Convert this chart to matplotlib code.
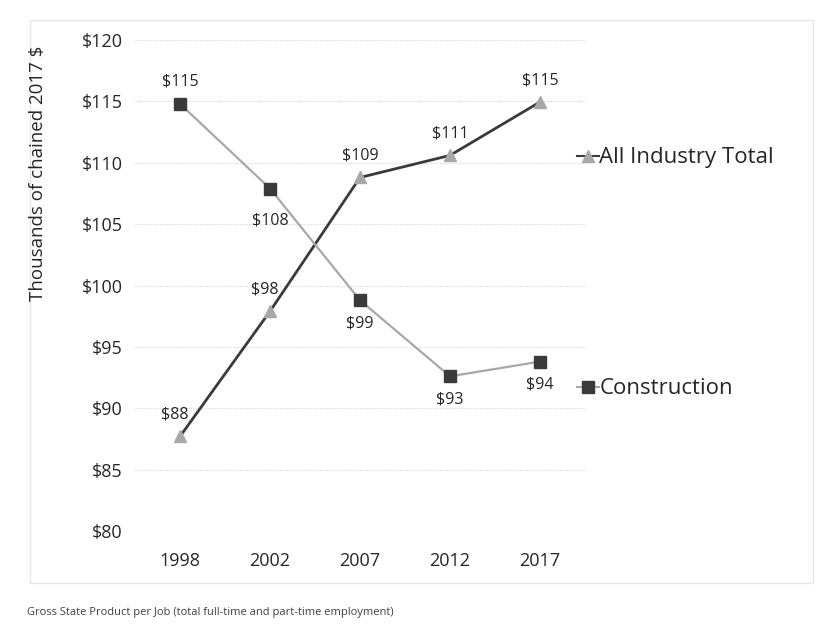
import matplotlib.pyplot as plt
from matplotlib.lines import Line2D
from matplotlib.patches import Rectangle

plt.rcParams['font.family'] = ['Open Sans', 'DejaVu Sans']

# Gross State Product per job, thousands of chained 2017 dollars
years = ["1998", "2002", "2007", "2012", "2017"]
all_industry = [87.7, 97.9, 108.8, 110.6, 114.95]
construction = [114.8, 107.9, 98.8, 92.6, 93.8]
yticks = [80, 85, 90, 95, 100, 105, 110, 115, 120]

dark = "#3a3a3a"
light = "#a8a8a8"
text_col = "#262626"

fig = plt.figure(figsize=(8.22, 6.37), dpi=100)
ax = fig.add_axes([135 / 822, 1 - 531 / 637, 450 / 822, 491 / 637])

x = range(len(years))
ax.plot(x, all_industry, color=dark, lw=2.0, marker="^", ms=9,
        mfc=light, mec=light, zorder=3)
ax.plot(x, construction, color=light, lw=1.6, marker="s", ms=9,
        mfc=dark, mec=dark, zorder=3)

# value labels
for i, v in enumerate(all_industry):
    dx = -4 if i < 2 else 0
    ax.annotate(f"${v:.0f}", (i, v), xytext=(dx, 10), textcoords="offset points",
                ha="center", va="bottom", fontsize=11.5, color=text_col)
for i, v in enumerate(construction):
    if i == 0:
        off, va = (0, 10), "bottom"
    elif i == 1:
        off, va = (0, -17), "top"
    else:
        off, va = (0, -11), "top"
    ax.annotate(f"${v:.0f}", (i, v), xytext=off, textcoords="offset points",
                ha="center", va=va, fontsize=11.5, color=text_col)

ax.set_xlim(-0.5, len(years) - 0.5)
ax.set_ylim(80, 120)
ax.set_xticks(list(x))
ax.set_xticklabels(years, fontsize=13, color=text_col)
ax.set_yticks(yticks)
ax.set_yticklabels([f"${t}" for t in yticks], fontsize=13, color=text_col)
ax.tick_params(axis="y", length=0, pad=9)
ax.tick_params(axis="x", length=0, pad=15)
ax.grid(axis="y", color="#d9d9d9", lw=0.8, ls=(0, (1, 1)))
ax.set_axisbelow(True)
for s in ax.spines.values():
    s.set_visible(False)

fig.text(38 / 822, 1 - 173 / 637, "Thousands of chained 2017 $", rotation=90,
         ha="center", va="center", fontsize=13.5, color=text_col)

# series labels at the right of the lines
h1 = Line2D([], [], color=dark, lw=1.5, marker="^", ms=9, mfc=light, mec=light)
h2 = Line2D([], [], color=light, lw=1.5, marker="s", ms=9, mfc=dark, mec=dark)
leg_kw = dict(loc="center left", bbox_transform=fig.transFigure, frameon=False,
              handlelength=1.0, handletextpad=0.0, borderpad=0,
              fontsize=16, labelcolor=text_col)
leg1 = ax.legend([h1], ["All Industry Total"],
                 bbox_to_anchor=(566 / 822, 1 - 158 / 637), **leg_kw)
ax.add_artist(leg1)
ax.legend([h2], ["Construction"],
          bbox_to_anchor=(566 / 822, 1 - 389 / 637), **leg_kw)

fig.text(27 / 822, 1 - 612 / 637,
         "Gross State Product per Job (total full-time and part-time employment)",
         ha="left", va="center", fontsize=8, color="#404040")

# faint frame around the chart
fig.patches.append(Rectangle((30 / 822, 1 - 583 / 637), 783 / 822, 563 / 637,
                             transform=fig.transFigure, fill=False,
                             ec="#e6e6e6", lw=1))

fig.savefig("out.png", dpi=100)
